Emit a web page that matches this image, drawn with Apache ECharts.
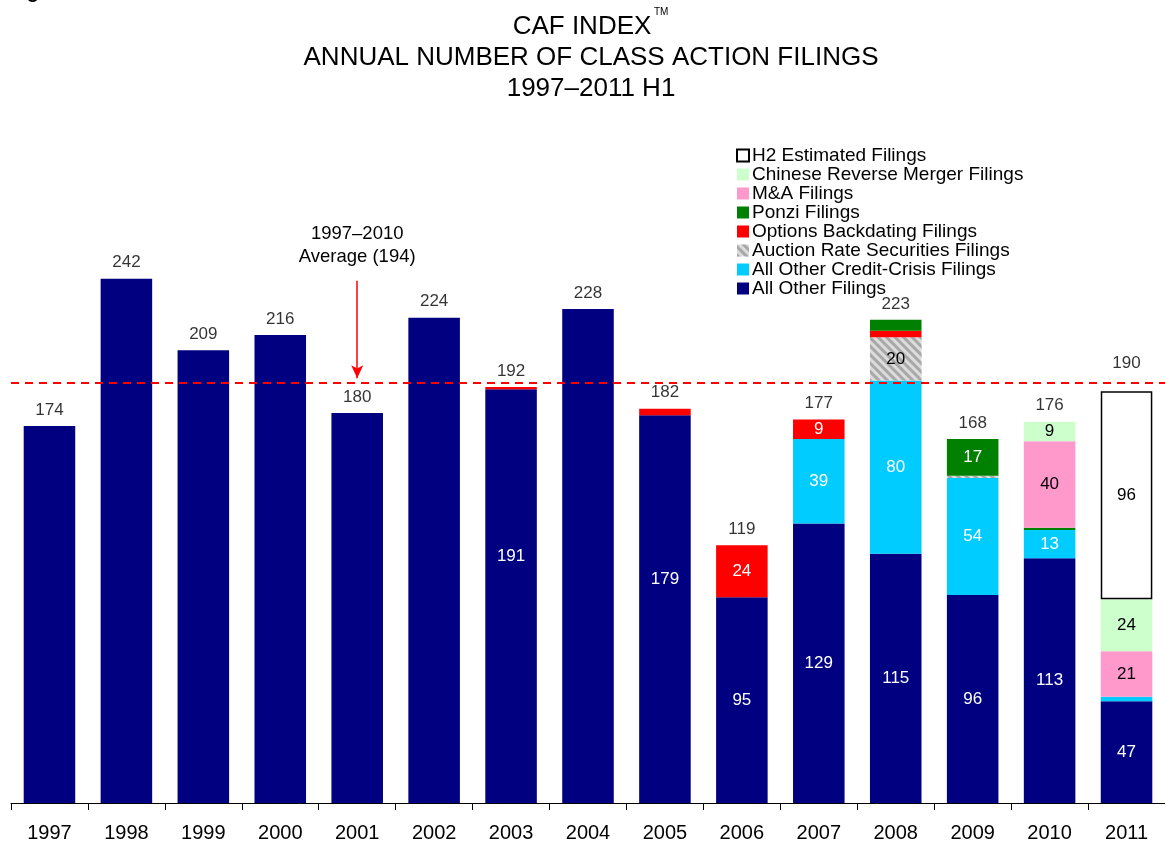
<!DOCTYPE html>
<html>
<head>
	<meta charset="utf-8">
	<title>CAF Index</title>
	<script src="https://cdn.jsdelivr.net/npm/echarts@6/dist/echarts.min.js"></script>
	<style type="text/css">
		* {
			padding: 0;
			margin: 0;
		}
		#chart {
			width: 1165px;
			height: 846px;
		}
	</style>
</head>
<body>
	<div id="chart"></div>
	<script type="text/javascript">
		var years = ['1997','1998','1999','2000','2001','2002','2003','2004','2005','2006','2007','2008','2009','2010','2011'];
		var allOther        = [174,242,209,216,180,224,191,228,179,95,129,115,96,113,47];
		var creditCrisis    = [0,0,0,0,0,0,0,0,0,0,39,80,54,13,2];
		var auctionRate     = [0,0,0,0,0,0,0,0,0,0,0,20,1,0,0];
		var optionsBackdate = [0,0,0,0,0,0,1,0,3,24,9,3,0,0,0];
		var ponzi           = [0,0,0,0,0,0,0,0,0,0,0,5,17,1,0];
		var mAndA           = [0,0,0,0,0,0,0,0,0,0,0,0,0,40,21];
		var chineseRM       = [0,0,0,0,0,0,0,0,0,0,0,0,0,9,24];
		var h2Estimated     = [0,0,0,0,0,0,0,0,0,0,0,0,0,0,96];
		var average = 194;

		var font = 'Liberation Sans, Arial, sans-serif';
		var layers = [allOther, creditCrisis, auctionRate, optionsBackdate, ponzi, mAndA, chineseRM, h2Estimated];

		var totals = years.map(function (y, i) {
			var s = 0;
			layers.forEach(function (arr) { s += arr[i]; });
			return s;
		});
		// a year counts as "split" when it has more than one segment
		var split = years.map(function (y, i) { return totals[i] !== allOther[i]; });

		function stackSeries(name, data, color, textColor, extra) {
			var s = {
				name: name,
				type: 'bar',
				stack: 'all',
				barWidth: '67%',
				itemStyle: { color: color },
				data: data.map(function (v, i) {
					var item = { value: v === 0 ? '-' : v };
					if (!(v >= 9 && split[i])) {
						item.label = { show: false };
					}
					return item;
				}),
				label: {
					show: true,
					position: 'inside',
					color: textColor,
					fontFamily: font,
					fontSize: 17
				}
			};
			if (extra) extra(s);
			return s;
		}

		var series = [
			stackSeries('All Other Filings', allOther, '#000080', '#fff', function (s) {
				// labels in 2003 and 2005 sit higher than the middle
				s.data[6].label = { offset: [0, -40] };
				s.data[8].label = { offset: [0, -30] };
				s.markLine = {
					silent: true,
					symbol: 'none',
					animation: false,
					data: [
						{
							yAxis: average,
							lineStyle: { color: '#ff0000', type: [8, 6], width: 2 },
							label: { show: false }
						},
						[
							{ coord: ['2001', 241], symbol: 'none' },
							{ coord: ['2001', 196], symbol: 'arrow', symbolSize: [9, 13],
								lineStyle: { color: '#ff0000', type: 'solid', width: 1.5 } }
						]
					],
					label: {
						show: true,
						position: 'start',
						formatter: '1997\u20132010\nAverage (194)',
						color: '#000',
						fontFamily: font,
						fontSize: 18.5,
						lineHeight: 23,
						distance: 12
					}
				};
			}),
			stackSeries('All Other Credit-Crisis Filings', creditCrisis, '#00ccff', '#fff'),
			stackSeries('Auction Rate Securities Filings', auctionRate, '#dcdcdc', '#000', function (s) {
				s.itemStyle.decal = {
					symbol: 'rect',
					color: '#a8a8a8',
					dashArrayX: [1, 0],
					dashArrayY: [3, 3],
					rotation: Math.PI / 4
				};
			}),
			stackSeries('Options Backdating Filings', optionsBackdate, '#ff0000', '#fff'),
			stackSeries('Ponzi Filings', ponzi, '#008000', '#fff'),
			stackSeries('M&A Filings', mAndA, '#ff99cc', '#000'),
			stackSeries('Chinese Reverse Merger Filings', chineseRM, '#ccffcc', '#000'),
			stackSeries('H2 Estimated Filings', h2Estimated, '#ffffff', '#000', function (s) {
				s.itemStyle.borderColor = '#000';
				s.itemStyle.borderWidth = 1.5;
			}),
			{
				// totals above each bar
				name: 'totals',
				type: 'scatter',
				symbolSize: 1,
				itemStyle: { color: 'rgba(0,0,0,0)' },
				data: totals.map(function (v, i) {
					var item = { value: v };
					if (i === 14) item.label = { distance: 19 };
					return item;
				}),
				label: {
					show: true,
					position: 'top',
					distance: 7,
					color: '#000',
					fontFamily: font,
					fontSize: 17
				},
				z: 5
			}
		];

		var chart = echarts.init(document.getElementById('chart'));
		chart.setOption({
			animation: false,
			graphic: [
				{
					type: 'text', x: 582, y: 27,
					style: { text: 'CAF INDEX', fill: '#000', font: '26px ' + font, textAlign: 'center', textVerticalAlign: 'middle' }
				},
				{
					type: 'text', x: 654, y: 12,
					style: { text: 'TM', fill: '#000', font: '10px ' + font, textAlign: 'left', textVerticalAlign: 'middle' }
				},
				{
					type: 'text', x: 591, y: 58,
					style: { text: 'ANNUAL NUMBER OF CLASS ACTION FILINGS', fill: '#000', font: '26px ' + font, textAlign: 'center', textVerticalAlign: 'middle' }
				},
				{
					type: 'text', x: 591, y: 89,
					style: { text: '1997\u20132011 H1', fill: '#000', font: '26px ' + font, textAlign: 'center', textVerticalAlign: 'middle' }
				},
				{
					// page caption, cut off by the top edge
					type: 'text', x: 9, y: 2,
					style: { text: 'Figure 3', fill: '#000', font: 'bold 20px ' + font, textAlign: 'left', textVerticalAlign: 'bottom' }
				}
			],
			legend: {
				orient: 'vertical',
				left: 731,
				top: 141,
				itemWidth: 12,
				itemHeight: 12,
				itemGap: 0,
				icon: 'rect',
				selectedMode: false,
				textStyle: { fontFamily: font, fontSize: 19, color: '#000', padding: [0, 0, 0, -2] },
				data: [
					'H2 Estimated Filings',
					'Chinese Reverse Merger Filings',
					'M&A Filings',
					'Ponzi Filings',
					'Options Backdating Filings',
					'Auction Rate Securities Filings',
					'All Other Credit-Crisis Filings',
					'All Other Filings'
				]
			},
			grid: {
				left: 11,
				width: 1164,
				top: 153,
				height: 650
			},
			xAxis: {
				type: 'category',
				data: years,
				axisLine: { lineStyle: { color: '#000', width: 1 } },
				axisTick: { show: true, length: 7, interval: 0, lineStyle: { color: '#000' } },
				axisLabel: {
					interval: 0,
					margin: 20,
					color: '#000',
					fontFamily: font,
					fontSize: 20
				}
			},
			yAxis: {
				type: 'value',
				min: 0,
				max: 300,
				show: false
			},
			series: series
		});
	</script>
</body>
</html>
